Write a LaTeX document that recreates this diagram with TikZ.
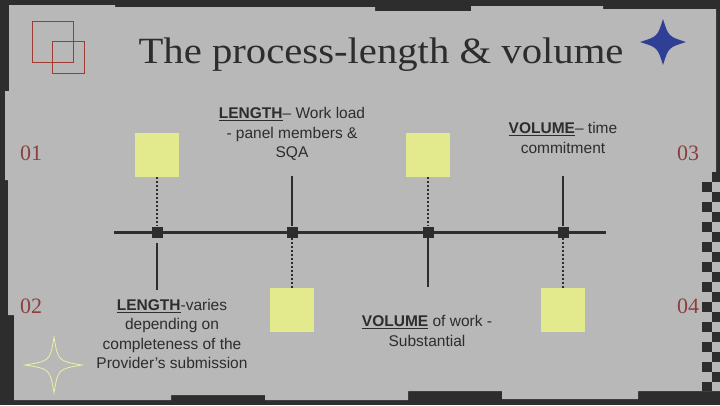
\documentclass[tikz,border=0pt]{standalone}
\usepackage{fontspec}
\setmainfont{Liberation Serif}
\newfontfamily\sansf{Liberation Sans}
\definecolor{dark}{HTML}{2D2D2D}
\definecolor{panel}{HTML}{B8B8B8}
\definecolor{ylw}{HTML}{E3EA8E}
\definecolor{numred}{HTML}{8E3E3E}
\definecolor{sqred}{HTML}{9E3C34}
\definecolor{starblue}{HTML}{2F3F95}
\definecolor{starylw}{HTML}{EEF0A4}
\tikzset{
  ybox/.style={fill=ylw,draw=none,minimum width=44pt,minimum height=44pt,inner sep=0pt},
  marker/.style={fill=dark,draw=none,minimum size=11pt,inner sep=0pt},
  numlbl/.style={text=numred,font=\fontsize{22}{24}\selectfont,inner sep=0pt},
  txt/.style={text=dark,font=\sansf\fontsize{15.5}{19.5}\selectfont,align=center,inner sep=0pt},
  solidstub/.style={draw=dark,line width=2.6pt},
  dotstub/.style={draw=dark,line width=2.6pt,dash pattern=on 2pt off 2pt},
}
\begin{document}
\begin{tikzpicture}[x=1pt,y=-1pt]
\useasboundingbox (0,0) rectangle (720,405);
\fill[dark] (0,0) rectangle (720,405);
\fill[panel] (9,5) -- (115,5) -- (115,7) -- (375,7) -- (375,11) -- (471,11) -- (471,6) -- (603,6) -- (603,9) -- (716,9) -- (716,172) -- (720,172) -- (720,391) -- (638,391) -- (638,399) -- (502,399) -- (502,391) -- (408,391) -- (408,400) -- (265,400) -- (265,395) -- (171,395) -- (171,400) -- (14,400) -- (14,315) -- (8,315) -- (8,180) -- (5,180) -- (5,91) -- (9,91) -- cycle;
% checker
\foreach \k in {0,...,21}{
  \pgfmathtruncatemacro{\parity}{mod(\k,2)}
  \pgfmathsetmacro{\yy}{172+10*\k}
  \pgfmathsetmacro{\ye}{min(391,\yy+10)}
  \ifnum\parity=0
    \fill[dark] (712,\yy) rectangle (720,\ye);
  \else
    \fill[dark] (702,\yy) rectangle (712,\ye);
  \fi
}
% decorations
\draw[sqred,line width=0.8pt] (32,21) rectangle (73,62);
\draw[sqred,line width=0.8pt] (52,41) rectangle (84,73);
\fill[starblue] (663,19) .. controls (668.5,36.5) .. (686,42) .. controls (668.5,47.5) .. (663,65) .. controls (657.5,47.5) .. (640,42) .. controls (657.5,36.5) .. (663,19) -- cycle;
\draw[starylw,line width=0.8pt] (54,337) .. controls (58,361) .. (82,365) .. controls (58,369) .. (54,393) .. controls (50,369) .. (25,365) .. controls (50,361) .. (54,337) -- cycle;
% title
\node[text=dark,font=\fontsize{37}{40}\selectfont,anchor=base,inner sep=0pt,xscale=1.1] (title) at (381,63) {The process-length \& volume};
% numbers
\node[numlbl] (n1) at (31,153) {01};
\node[numlbl] (n2) at (31,306) {02};
\node[numlbl] (n3) at (688,153) {03};
\node[numlbl] (n4) at (688,306) {04};
% timeline
\coordinate (L0) at (114,232);
\coordinate (L1) at (606,232);
\draw[draw=dark,line width=3pt] (L0) -- (L1);
\node[marker] (m1) at (157,232) {};
\node[marker] (m2) at (292,232) {};
\node[marker] (m3) at (428,232) {};
\node[marker] (m4) at (563,232) {};
% yellow boxes
\node[ybox] (y1) at (157,155) {};
\node[ybox] (y3) at (428,155) {};
\node[ybox] (y2) at (292,310) {};
\node[ybox] (y4) at (563,310) {};
% stubs
\draw[dotstub] (y1.south) -- (m1.north);
\draw[dotstub] (y3.south) -- (m3.north);
\draw[dotstub] (m2.south) -- (y2.north);
\draw[dotstub] (m4.south) -- (y4.north);
\coordinate (s2) at (292,176);
\coordinate (s4) at (563,176);
\coordinate (s1) at (157,290);
\coordinate (s3) at (428,287);
\coordinate (s1a) at (157,243);
\draw[solidstub] (s2) -- (m2.north);
\draw[solidstub] (s4) -- (m4.north);
\draw[solidstub] (s1a) -- (s1);
\draw[solidstub] (m3.south) -- (s3);
% texts
\node[txt] (t1) at (292,134) {\underline{\textbf{LENGTH}}– Work load\\- panel members \&\\SQA};
\node[txt] (t2) at (563,138) {\underline{\textbf{VOLUME}}– time\\commitment};
\node[txt] (t3) at (172,334) {\underline{\textbf{LENGTH}}-varies\\depending on\\completeness of the\\Provider’s submission};
\node[txt] (t4) at (427,331) {\underline{\textbf{VOLUME}} of work -\\Substantial};
\end{tikzpicture}
\end{document}
